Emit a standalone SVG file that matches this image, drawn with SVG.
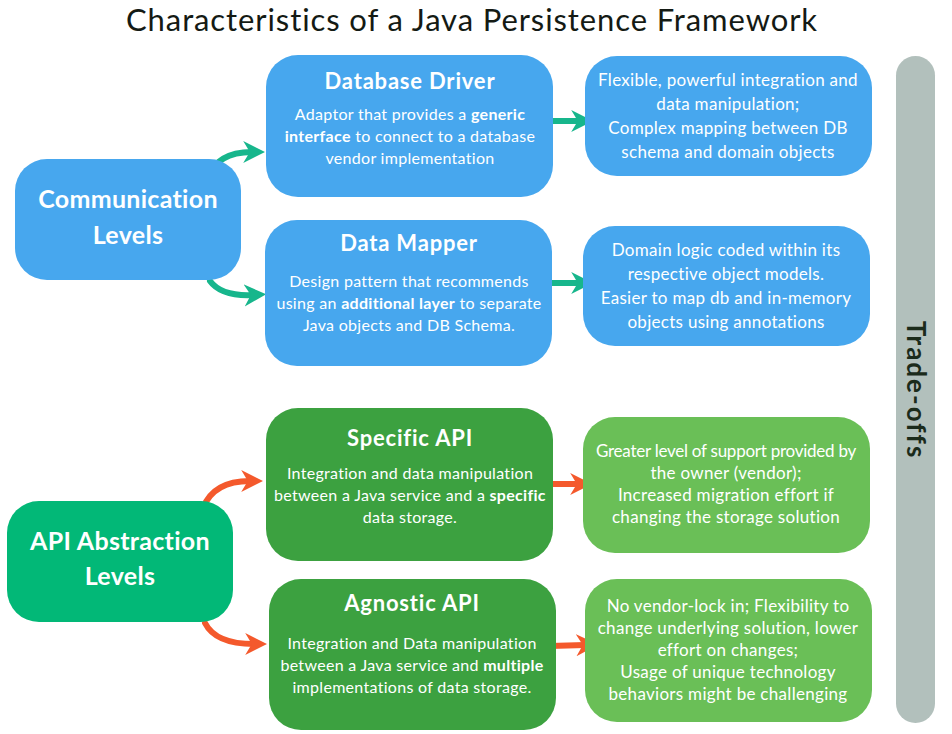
<svg xmlns="http://www.w3.org/2000/svg" width="952" height="734" viewBox="0 0 952 734">
<style>
text{font-family:Lato,"Noto Sans","Liberation Sans",sans-serif;fill:#fff;text-anchor:middle}
.title{font-size:31px;fill:#141a14;letter-spacing:0.9px}
.big{font-size:25px;font-weight:bold;letter-spacing:0.3px}
.hd{font-size:22px;font-weight:bold;letter-spacing:0.8px}
.bd{font-size:16px;letter-spacing:0.3px}
.rt{font-size:17px;letter-spacing:0.3px}
.tight{letter-spacing:-0.25px}
.b{font-weight:bold}
.blue{fill:#47A7EE}
.emer{fill:#02B877}
.dg{fill:#3CA140}
.lg{fill:#6ABF57}
.teal{fill:none;stroke:#17B68C;stroke-width:6;stroke-linecap:round}
.orng{fill:none;stroke:#F4592C;stroke-width:6;stroke-linecap:round}
.tr{font-size:26px;font-weight:bold;fill:#1b2b1b;letter-spacing:2px}
</style>
<defs>
<marker id="ht" viewBox="0 0 10 10" refX="4" refY="5" markerWidth="22" markerHeight="26" markerUnits="userSpaceOnUse" orient="auto">
<path d="M0,0 L10,5 L0,10 L3,5 Z" fill="#17B68C"/>
</marker>
<marker id="ho" viewBox="0 0 10 10" refX="4" refY="5" markerWidth="22" markerHeight="26" markerUnits="userSpaceOnUse" orient="auto">
<path d="M0,0 L10,5 L0,10 L3,5 Z" fill="#F4592C"/>
</marker>
</defs>
<rect width="952" height="734" fill="#fff"/>
<text class="title" x="472" y="31">Characteristics of a Java Persistence Framework</text>

<g id="tradeoffs">
<rect x="896" y="56" width="39" height="667" rx="19.5" fill="#B2C0BC"/>
<text class="tr" transform="translate(916,390) rotate(90)" x="0" y="9">Trade-offs</text>
</g>

<g id="connectors">
<path class="teal" d="M207,179 C213,162 228,152 252,152" marker-end="url(#ht)"/>
<path class="teal" d="M210,281 C218,292 232,296 253,295" marker-end="url(#ht)"/>
<path class="teal" d="M546,121 L580,121" marker-end="url(#ht)"/>
<path class="teal" d="M546,283 L580,283" marker-end="url(#ht)"/>
<path class="orng" d="M203,508 C210,490 226,481 250,481" marker-end="url(#ho)"/>
<path class="orng" d="M205,623 C212,637 228,644 254,644" marker-end="url(#ho)"/>
<path class="orng" d="M544,484 L579,484" marker-end="url(#ho)"/>
<path class="orng" d="M550,646 L585,645" marker-end="url(#ho)"/>
</g>

<g id="communication">
<rect class="blue" x="15" y="159" width="226" height="121" rx="32"/>
<text class="big" x="128" y="208">Communication</text>
<text class="big" x="128" y="244">Levels</text>
</g>

<g id="database-driver">
<rect class="blue" x="266" y="55" width="287" height="142" rx="32"/>
<text class="hd" x="410" y="89">Database Driver</text>
<text class="bd" x="410" y="120">Adaptor that provides a <tspan class="b">generic</tspan></text>
<text class="bd" x="410" y="142"><tspan class="b">interface</tspan> to connect to a database</text>
<text class="bd" x="410" y="164">vendor implementation</text>
</g>

<g id="data-mapper">
<rect class="blue" x="265" y="220" width="287" height="146" rx="32"/>
<text class="hd" x="409" y="251">Data Mapper</text>
<text class="bd" x="409" y="287">Design pattern that recommends</text>
<text class="bd" x="409" y="309">using an <tspan class="b">additional layer</tspan> to separate</text>
<text class="bd" x="409" y="331">Java objects and DB Schema.</text>
</g>

<g id="tradeoff-driver">
<rect class="blue" x="585" y="56" width="287" height="120" rx="32"/>
<text class="rt" x="728" y="86">Flexible, powerful integration and</text>
<text class="rt" x="728" y="110">data manipulation;</text>
<text class="rt" x="728" y="134">Complex mapping between DB</text>
<text class="rt" x="728" y="158">schema and domain objects</text>
</g>

<g id="tradeoff-mapper">
<rect class="blue" x="583" y="226" width="287" height="120" rx="32"/>
<text class="rt" x="726" y="256">Domain logic coded within its</text>
<text class="rt" x="726" y="280">respective object models.</text>
<text class="rt" x="726" y="304">Easier to map db and in-memory</text>
<text class="rt" x="726" y="328">objects using annotations</text>
</g>

<g id="api-abstraction">
<rect class="emer" x="7" y="501" width="226" height="121" rx="32"/>
<text class="big" x="120" y="550">API Abstraction</text>
<text class="big" x="120" y="585">Levels</text>
</g>

<g id="specific-api">
<rect class="dg" x="266" y="408" width="287" height="153" rx="32"/>
<text class="hd" x="410" y="446">Specific API</text>
<text class="bd" x="410" y="479">Integration and data manipulation</text>
<text class="bd" x="410" y="501">between a Java service and a <tspan class="b">specific</tspan></text>
<text class="bd" x="410" y="523">data storage.</text>
</g>

<g id="agnostic-api">
<rect class="dg" x="269" y="579" width="287" height="151" rx="32"/>
<text class="hd" x="412" y="611">Agnostic API</text>
<text class="bd" x="412" y="649">Integration and Data manipulation</text>
<text class="bd" x="412" y="671">between a Java service and <tspan class="b">multiple</tspan></text>
<text class="bd" x="412" y="693">implementations of data storage.</text>
</g>

<g id="tradeoff-specific">
<rect class="lg" x="583" y="417" width="287" height="136" rx="32"/>
<text class="rt tight" x="726" y="457">Greater level of support provided by</text>
<text class="rt" x="726" y="479">the owner (vendor);</text>
<text class="rt" x="726" y="501">Increased migration effort if</text>
<text class="rt" x="726" y="523">changing the storage solution</text>
</g>

<g id="tradeoff-agnostic">
<rect class="lg" x="585" y="579" width="287" height="143" rx="32"/>
<text class="rt" x="728" y="612">No vendor-lock in; Flexibility to</text>
<text class="rt" x="728" y="634">change underlying solution, lower</text>
<text class="rt" x="728" y="656">effort on changes;</text>
<text class="rt" x="728" y="678">Usage of unique technology</text>
<text class="rt" x="728" y="700">behaviors might be challenging</text>
</g>
</svg>
